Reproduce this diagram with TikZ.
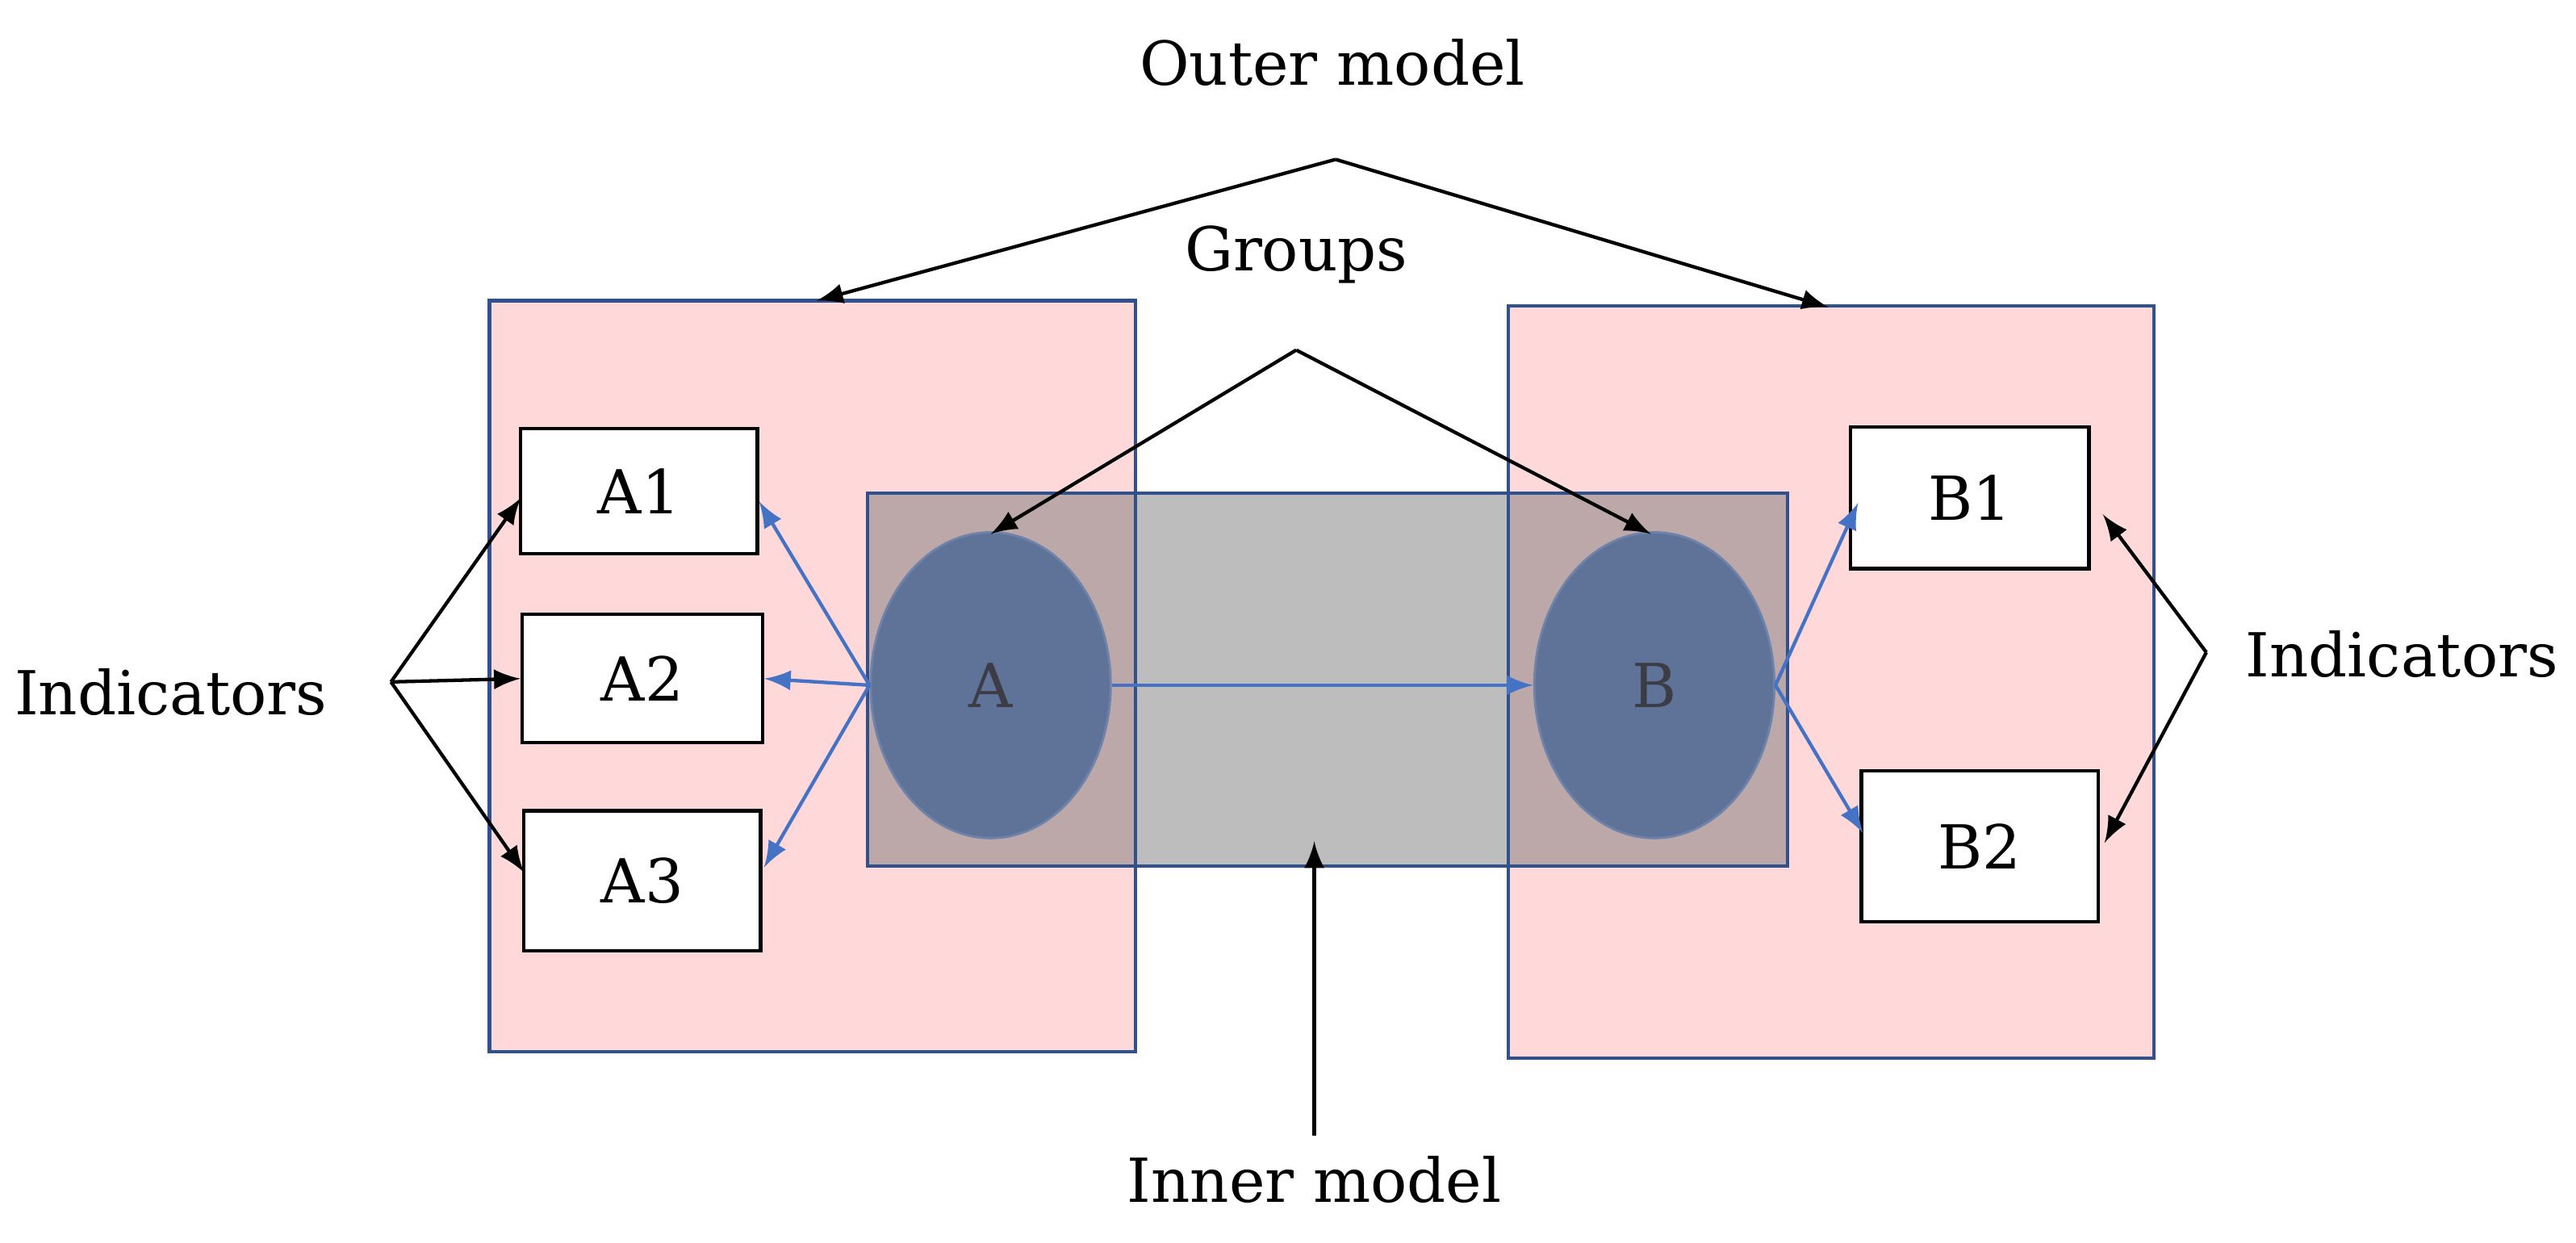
\documentclass[tikz,border=0pt]{standalone}
\usepackage{fontspec}
\setmainfont{DejaVu Serif}
\usetikzlibrary{shapes.geometric}
\definecolor{pinkc}{RGB}{255,217,217}
\definecolor{grayc}{RGB}{189,189,189}
\definecolor{ovc}{RGB}{188,168,168}
\definecolor{frc}{RGB}{47,82,143}
\definecolor{latb}{RGB}{110,130,170}
\definecolor{latf}{RGB}{95,115,153}
\definecolor{latt}{RGB}{60,60,70}
\definecolor{blu}{RGB}{68,114,196}
\begin{document}
\begin{tikzpicture}[x=0.01cm,y=-0.01cm,
  lbl/.style={font=\fontsize{10.5}{12}\selectfont},
  ind/.style={draw=black,fill=white,line width=0.6pt,font=\fontsize{10.5}{12}\selectfont,inner sep=0pt},
  lat/.style={ellipse,draw=latb,fill=latf,minimum width=1.46cm,minimum height=1.86cm,inner sep=0pt,font=\fontsize{10.5}{12}\selectfont,text=latt},
  barr/.style={-latex,draw=blu,line width=0.6pt},
  karr/.style={-latex,draw=black,line width=0.6pt},
  frame/.style={draw=frc,line width=0.6pt}]
\useasboundingbox (0,0) rectangle (1568,756);
\fill[pinkc] (298,183) rectangle (691,640);
\fill[pinkc] (918,186) rectangle (1311,644);
\fill[grayc] (528,300) rectangle (1088,527);
\fill[ovc] (528,300) rectangle (691,527);
\fill[ovc] (918,300) rectangle (1088,527);
\draw[frame] (298,183) rectangle (691,640);
\draw[frame] (918,186) rectangle (1311,644);
\draw[frame] (528,300) rectangle (1088,527);
\node[lat] (A) at (603,417) {A};
\node[lat] (B) at (1007,417) {B};
\node[ind,minimum width=1.44cm,minimum height=0.76cm] (A1) at (389,299) {A1};
\node[ind,minimum width=1.46cm,minimum height=0.78cm] (A2) at (391,413) {A2};
\node[ind,minimum width=1.44cm,minimum height=0.85cm] (A3) at (391,536) {A3};
\node[ind,minimum width=1.45cm,minimum height=0.86cm] (B1) at (1199,303) {B1};
\node[ind,minimum width=1.44cm,minimum height=0.92cm] (B2) at (1205,515) {B2};
\node[lbl] (outer) at (811,38) {Outer model};
\node[lbl] (groups) at (789,155) {Groups};
\node[lbl] (indL) at (104,421) {Indicators};
\node[lbl] (indR) at (1462,398) {Indicators};
\node[lbl] (inner) at (800,718) {Inner model};
\coordinate (o) at (813,97);
\coordinate (g) at (789,213);
\coordinate (il) at (238,415);
\coordinate (ir) at (1343,397);
\draw[karr] (o) -- (497,183);
\draw[karr] (o) -- (1113,187);
\draw[karr] (g) -- (603,325);
\draw[karr] (g) -- (1005,325);
\draw[karr] (il) -- (317,303);
\draw[karr] (il) -- (A2.west);
\draw[karr] (il) -- (319,531);
\draw[karr] (ir) -- (1280,313);
\draw[karr] (ir) -- (1281,513);
\draw[karr] (inner.north) -- (800,512);
\draw[barr] (A.west) -- (462,305);
\draw[barr] (A.west) -- (A2.east);
\draw[barr] (A.west) -- (465,528);
\draw[barr] (A.east) -- (B.west);
\draw[barr] (B.east) -- (1131,306);
\draw[barr] (B.east) -- (1134,507);
\end{tikzpicture}
\end{document}
